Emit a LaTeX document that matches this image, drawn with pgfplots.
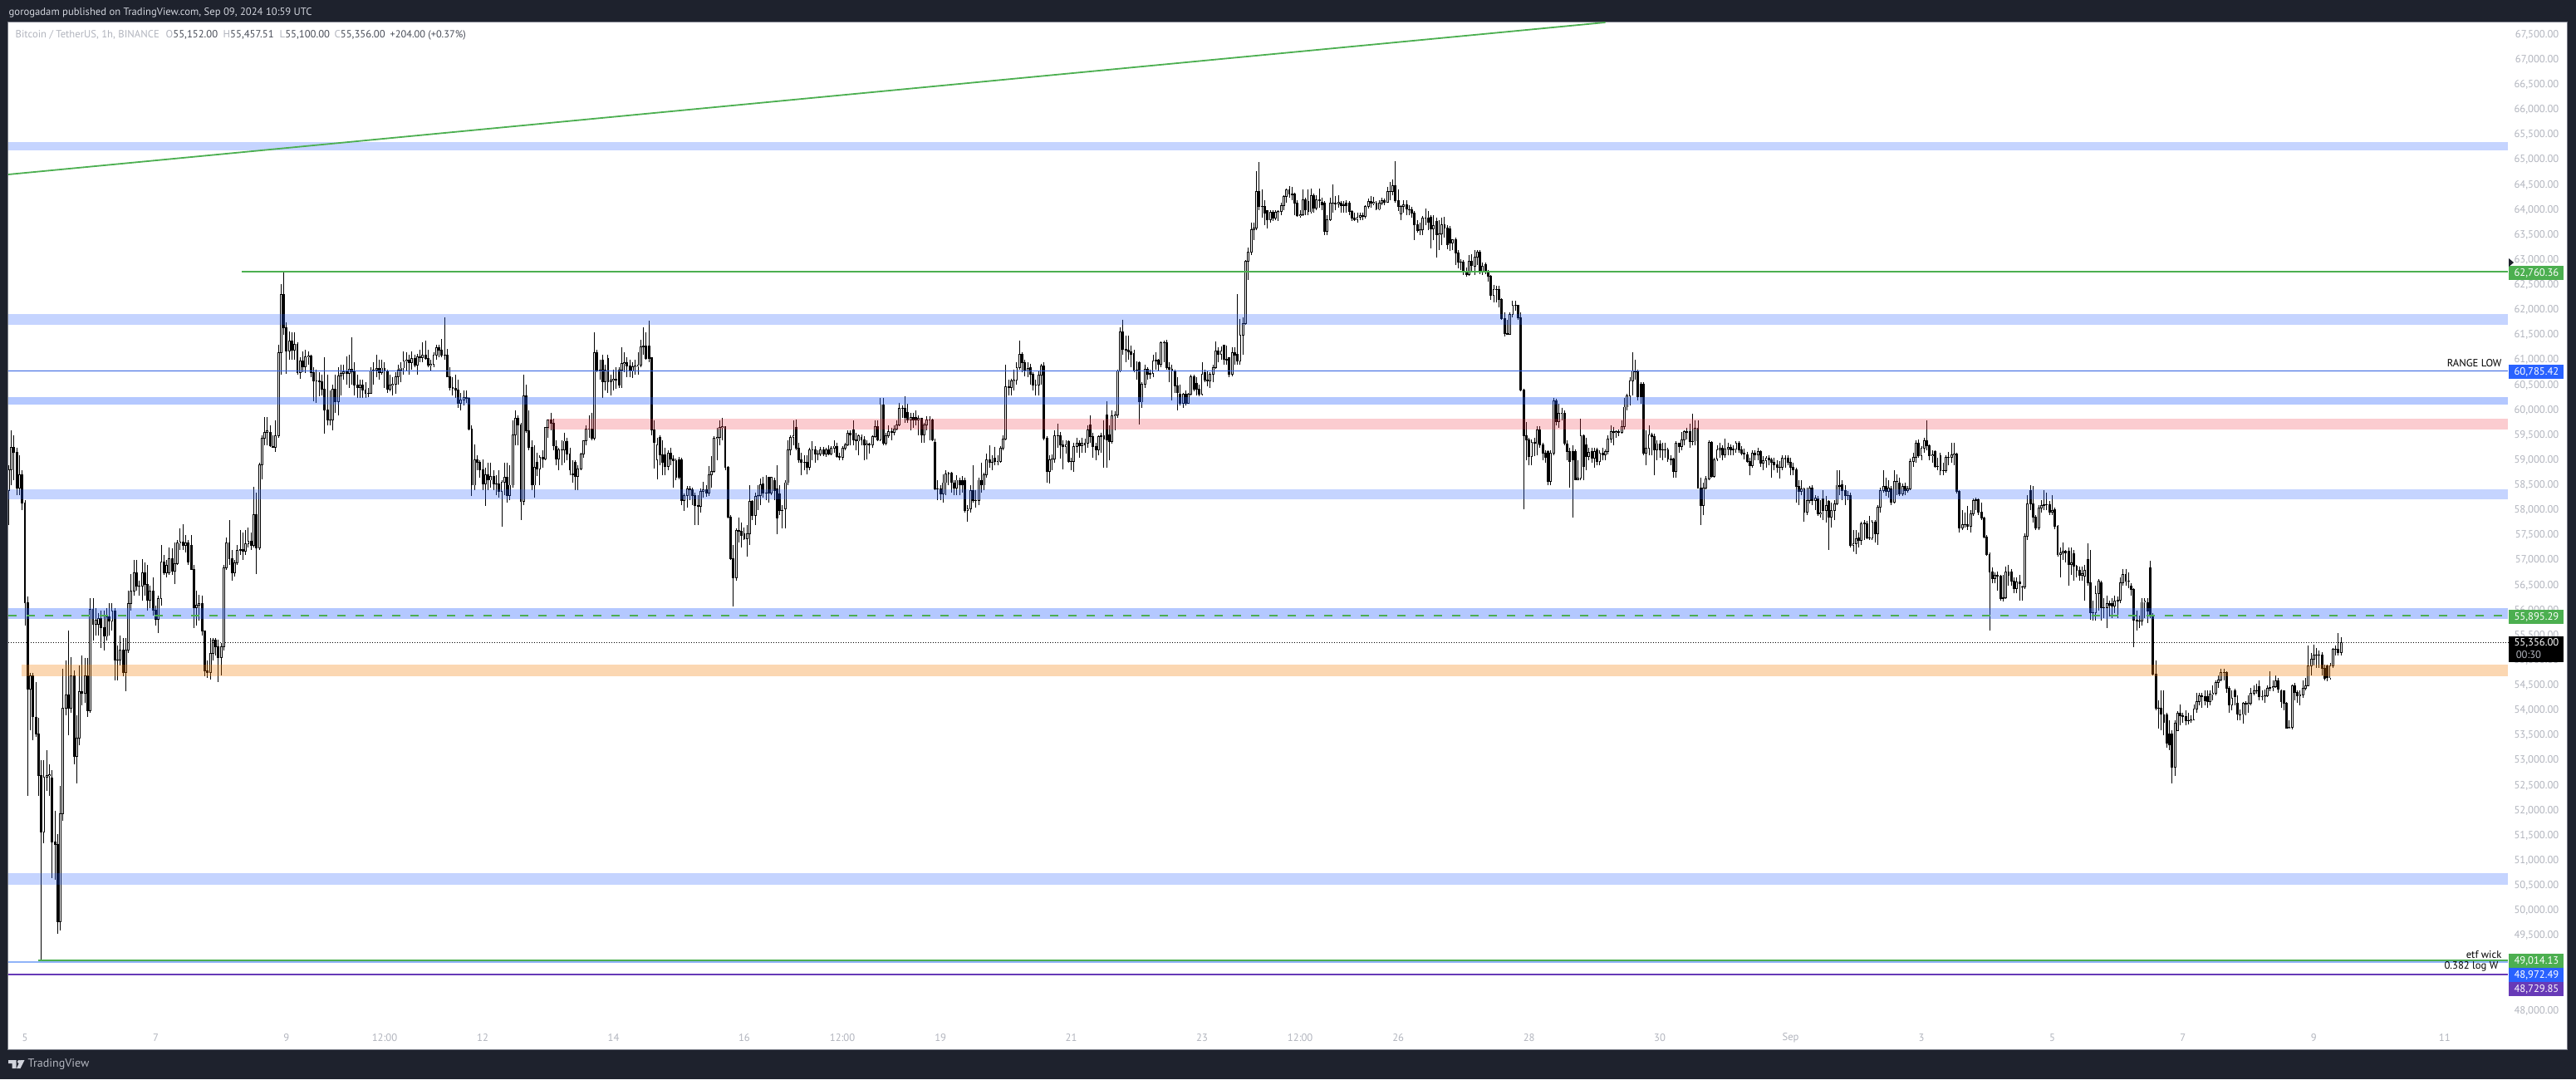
\documentclass[border=0pt]{standalone}
\usepackage{fontspec}
\setmainfont{PT Sans}
\usepackage{pgfplots}
\pgfplotsset{compat=1.18}

\definecolor{tvdark}{HTML}{1E222D}
\definecolor{tvedge}{HTML}{787B86}
\definecolor{tvtick}{HTML}{B2B5BE}
\definecolor{tvtext}{HTML}{D1D4DC}
\definecolor{tvink}{HTML}{4A4E59}
\definecolor{tvgreen}{HTML}{4CAF50}
\definecolor{tvblue}{HTML}{2962FF}
\definecolor{tvline}{HTML}{3060E0}
\definecolor{tvsky}{HTML}{90B4F8}
\definecolor{tvpurple}{HTML}{673AB7}
\definecolor{tvred}{HTML}{F23645}
\definecolor{tvorange}{HTML}{F57C00}

% rows: hours since Aug 5 00:00 UTC, open, high, low, close
\def\candlerows{%
-6 58400 58900 57700 58800
-5 58800 59590 58500 59250
-4 59250 59500 58600 59150
-3 59150 59250 58300 58450
-2 58450 59100 58300 58700
-1 58700 58800 58000 58150
0 58150 58200 55700 56150
1 56150 56280 52300 54420
2 54420 54750 53600 54690
3 54690 54750 53400 53870
4 53870 54560 53480 53525
5 53525 53850 52300 52700
6 52700 53000 49020 51570
7 51570 53000 51350 52670
8 52670 53200 52400 52700
9 52700 52920 52300 52720
10 52650 52800 50650 51375
11 51375 52000 50620 51330
12 51330 51530 49540 49780
13 49780 52500 49600 51940
14 51940 54830 51800 54040
15 54040 55000 53900 54310
16 54310 55600 53500 54040
17 54040 55070 53950 54690
18 54690 54800 52930 53080
19 53080 53900 52550 53450
20 53450 54900 53300 54380
21 54380 55100 54100 54350
22 54350 55050 54150 54690
23 54690 55050 53870 54000
24 54000 56250 53950 56020
25 56020 56250 55400 55720
26 55720 56050 55500 55800
27 55720 55950 55500 55830
28 55830 56000 55250 55650
29 55650 56000 55200 55480
30 55480 56050 55400 55870
31 55870 56150 55500 55790
32 55790 56150 55600 55990
33 55990 56050 54600 55000
34 55000 55300 54600 55000
35 55000 55500 54900 55200
36 55200 55450 54680 54760
37 54760 55450 54380 55200
38 55200 56400 55150 56130
39 56130 56720 56000 56390
40 56390 57000 56300 56750
41 56750 57000 56400 56480
42 56480 56600 56300 56480
43 56480 57030 56200 56750
44 56750 56950 56300 56510
45 56510 56900 56000 56200
46 56200 56500 56050 56380
47 56380 56650 55900 56000
48 56000 56100 55700 55820
49 55820 56300 55550 56240
50 56240 57300 56100 56960
51 56960 57100 56700 56750
52 56750 57000 56650 56900
53 56750 57250 56700 57030
54 57030 57240 56700 56790
55 56790 57350 56520 56930
56 56930 57400 56900 57340
57 57340 57640 57200 57370
58 57370 57720 57200 57300
59 57300 57500 57150 57340
60 57340 57400 56900 56960
61 57300 57500 56800 56810
62 56810 56900 55650 56060
63 56060 56400 55700 56100
64 56100 56310 55800 56130
65 56130 56300 55500 55590
66 55590 55600 54680 54790
67 54790 55000 54650 54760
68 54760 55450 54620 55140
69 55140 55450 55000 55400
70 55400 55450 55100 55280
71 55280 55420 54560 55060
72 55060 55350 54700 55270
73 55270 56900 55200 56850
74 56850 57450 56800 57340
75 57340 57800 56900 57030
76 57030 57200 56600 56750
77 56750 57000 56680 56950
78 56950 57300 56900 57200
79 57200 57600 57100 57210
80 57210 57550 57000 57180
81 57180 57600 57100 57330
82 57330 57650 57250 57380
83 57380 57550 57200 57300
84 57300 58460 57250 57906
85 57906 58350 56720 57240
86 57240 58950 57200 58900
87 58900 59500 58620 59440
88 59440 59860 59300 59550
89 59550 59860 59300 59580
90 59550 59700 59260 59280
91 59280 59500 59250 59260
92 59260 59800 59170 59480
93 59480 61300 59450 61140
94 61140 62520 60700 62310
95 62310 62750 61500 61650
96 61650 61750 60720 61180
97 61180 61570 61000 61380
98 61380 61560 61000 61200
99 61200 61550 61000 61320
100 61320 61360 60700 60750
101 60750 61060 60620 60980
102 60980 61170 60750 60860
103 60860 61200 60740 61060
104 61060 61170 60900 61080
105 61080 61110 60650 60750
106 60750 60850 60170 60590
107 60590 60800 60150 60580
108 60580 60750 60280 60560
109 60560 60700 60300 60420
110 60420 61050 59530 60000
111 60000 60700 59700 59800
112 59800 60400 59700 59800
113 59800 60500 59600 60410
114 60410 60700 59950 60170
115 60170 60850 59900 60680
116 60680 60900 60300 60740
117 60740 60900 60600 60760
118 60760 61080 60500 60730
119 60730 61100 60450 60820
120 60820 61450 60500 60760
121 60790 60950 60300 60500
122 60500 60700 60240 60450
123 60450 60600 60250 60500
124 60500 60600 60250 60400
125 60400 60550 60250 60330
126 60330 60450 60260 60340
127 60340 60850 60320 60780
128 60780 60950 60500 60800
129 60800 61100 60650 60830
130 60830 61000 60600 60750
131 60750 61000 60700 60840
132 60840 60950 60450 60790
133 60790 60800 60350 60420
134 60420 60700 60380 60500
135 60500 60650 60300 60520
136 60520 60750 60330 60660
137 60660 60900 60500 60800
138 60800 60950 60560 60840
139 60840 61170 60700 60980
140 60980 61150 60780 61000
141 61000 61100 60700 60950
142 60950 61180 60800 61030
143 61030 61100 60850 60900
144 60900 61120 60700 61070
145 61070 61200 60950 61040
146 61040 61350 60950 61100
147 61100 61380 61000 61030
148 61030 61200 60850 60900
149 60900 61000 60780 60920
150 60920 61150 60850 61105
151 61105 61300 61000 61240
152 61240 61300 61050 61200
153 61200 61420 61050 61105
154 61105 61850 61000 61100
155 61100 61220 60650 60670
156 60670 60850 60400 60450
157 60450 60650 60300 60430
158 60430 60700 60250 60400
159 60400 60600 60050 60140
160 60140 60350 60000 60200
161 60200 60400 60100 60245
162 60245 60400 60150 60230
163 60230 60260 59600 59620
164 59620 59700 58290 58500
165 58500 59320 58400 59000
166 59000 59100 58800 58950
167 58950 59000 58650 58800
168 58800 59010 58400 58520
169 58520 58850 58090 58700
170 58700 58950 58400 58600
171 58600 58950 58450 58680
172 58680 58800 58400 58520
173 58520 58700 58300 58520
174 58520 58800 58250 58380
175 58380 58600 57670 58560
176 58560 58950 58300 58660
177 58660 58950 58150 58290
178 58290 58900 58200 58500
179 58500 59800 58450 59500
180 59500 60000 59300 59840
181 59840 59900 59300 59700
182 59700 59750 57800 58180
183 58180 60700 58100 60280
184 60280 60500 59550 59590
185 59590 60000 59200 59260
186 59260 59400 58400 58500
187 58500 59300 58250 58850
188 58950 59150 58680 58820
189 58820 59100 58500 59050
190 59050 59200 58850 59030
191 59030 59650 59000 59650
192 59650 59800 59450 59800
193 59800 59950 59600 59740
194 59740 59830 59200 59280
195 59280 59400 58900 59030
196 59030 59250 58800 59210
197 59210 59400 58900 59200
198 59200 59550 58950 59380
199 59380 59450 59000 59120
200 59120 59250 58700 58800
201 58730 59000 58550 58700
202 58950 59000 58400 58670
203 58670 58900 58400 58830
204 58830 59150 58800 59120
205 59120 59400 59050 59390
206 59390 59700 59300 59620
207 59620 59900 59450 59620
208 59620 59950 59400 59440
209 59440 61550 59400 61140
210 61140 61200 60750 60790
211 60800 61000 60600 60780
212 60990 61100 60245 60560
213 60560 60900 60400 60800
214 61030 61100 60350 60560
215 60560 60700 60300 60600
216 60600 60800 60400 60620
217 60620 60850 60430 60600
218 60800 60850 60450 60500
219 60800 61260 60450 60930
220 60930 61150 60750 60950
221 60950 61050 60650 60880
222 60880 61000 60650 60790
223 60790 60950 60640 60860
224 60860 61000 60700 60880
225 60880 61150 60700 60900
226 60900 61400 60850 61270
227 61270 61650 61100 61280
228 61280 61550 61000 61030
229 61280 61790 60950 61030
230 61040 61060 59500 59600
231 59600 59800 58840 59350
232 59000 59450 58620 59300
233 59450 59500 58900 59100
234 59100 59400 58700 58950
235 59106 59250 58700 58880
236 58880 59200 58800 59140
237 59140 59250 58900 59020
238 59020 59100 58450 58990
239 58990 59030 58600 58650
240 59000 59060 58620 58650
241 59010 59050 58100 58190
242 58190 58340 57990 58300
243 58300 58480 58050 58430
244 58430 58480 58200 58410
245 58410 58450 58100 58290
246 58290 58350 57700 58100
247 58100 58300 57700 58080
248 58080 58440 57950 58380
249 58380 58570 58250 58410
250 58410 58500 58260 58340
251 58340 58890 58290 58710
252 58710 59080 58450 58780
253 58780 59480 58750 59430
254 59430 59650 59000 59460
255 59460 59790 59300 59650
256 59650 59840 59400 59670
257 59670 59680 58800 58860
258 58860 58880 57830 57860
259 57860 57900 57000 57030
260 57030 57300 56070 56650
261 56650 57640 56600 57600
262 57600 57860 57350 57580
263 57580 57760 57260 57500
264 57530 57650 57400 57430
265 57430 57700 57080 57530
266 57530 58500 57300 58180
267 58180 58200 57800 57890
268 57890 58350 57700 58280
269 58280 58500 58000 58300
270 58300 58640 58100 58510
271 58520 58670 58250 58350
272 58350 58700 58200 58340
273 58650 58650 58150 58350
274 58350 58660 58300 58650
275 58600 58650 58200 58400
276 58420 58900 57520 57840
277 58320 58500 57900 57990
278 57990 58100 57640 58000
279 58020 58600 57640 58550
280 58550 59400 58500 59200
281 59200 59500 59100 59450
282 59450 59790 59300 59480
283 59660 59810 59200 59240
284 59240 59350 58950 59010
285 59010 59150 58700 58950
286 58950 59100 58800 58950
287 58950 59100 58710 58860
288 58860 59250 58800 59200
289 59200 59380 59000 59210
290 59200 59280 58950 59130
291 59130 59200 59000 59130
292 59130 59270 59080 59210
293 59210 59260 59080 59130
294 59130 59250 59070 59210
295 59210 59300 59100 59130
296 59130 59280 59100 59240
297 59240 59400 59150 59280
298 59280 59350 59040 59080
299 59080 59150 59000 59060
300 59060 59280 59000 59240
301 59240 59350 59200 59310
302 59310 59600 59280 59530
303 59530 59600 59300 59500
304 59600 59790 59300 59400
305 59400 59540 59200 59380
306 59380 59510 59100 59480
307 59450 59510 59300 59400
308 59400 59480 59000 59300
309 59300 59400 59020 59320
310 59320 59350 59130 59300
311 59300 59500 59250 59470
312 59470 59800 59450 59670
313 59670 59800 59380 59400
314 59400 60250 59380 60110
315 60110 60250 59300 59340
316 59340 59550 59300 59480
317 59480 59700 59450 59570
318 59570 59650 59400 59560
319 59560 59700 59500 59620
320 59620 59800 59600 59700
321 59700 60150 59680 60030
322 60030 60100 59850 60040
323 60030 60270 59750 59860
324 59960 60130 59750 59800
325 59800 59950 59600 59860
326 59860 59950 59650 59800
327 59860 59990 59700 59800
328 59800 59900 59500 59830
329 59830 59850 59350 59500
330 59500 59750 59350 59700
331 59700 59870 59600 59810
332 59810 59870 59400 59800
333 59810 59830 59380 59400
334 59350 59430 58400 58420
335 58420 58600 58200 58430
336 58420 58500 58200 58320
337 58320 58720 58150 58550
338 58550 58800 58300 58730
339 58730 58760 58500 58740
340 58740 58760 58350 58550
341 58550 58600 58300 58450
342 58450 58700 58300 58600
343 58600 58650 58300 58500
344 58600 58680 58350 58500
345 58600 58650 57950 58000
346 58000 58100 57770 58020
347 58020 58500 57950 58400
348 58400 58900 58150 58190
349 58190 58400 58060 58200
350 58200 58650 58100 58600
351 58600 58950 58350 58500
352 58500 58750 58400 58700
353 58700 59130 58650 59010
354 59010 59300 58850 58950
355 58950 59100 58800 58960
356 59040 59270 58900 58980
357 58980 59100 58900 58970
358 58980 59280 58950 59240
359 59240 59500 59200 59420
360 59420 60900 59400 60470
361 60470 60600 60300 60450
362 60450 60630 60300 60580
363 60580 60800 60400 60600
364 60600 60950 60500 60850
365 60850 61390 60800 61110
366 61110 61150 60750 60950
367 60950 61000 60680 60780
368 60780 60950 60650 60830
369 60850 60930 60500 60710
370 60710 60750 60400 60500
371 60500 60600 60300 60500
372 60500 60780 60300 60700
373 60700 60920 60500 60880
374 60880 60950 59400 59430
375 59430 59480 58550 58780
376 58780 59100 58540 59010
377 59010 59110 58800 59030
378 59030 59600 58950 59480
379 59480 59730 59250 59480
380 59480 59570 59030 59300
381 59300 59400 58810 59270
382 59270 59400 59130 59300
383 59370 59400 58950 58980
384 58980 59050 58800 58980
385 58980 59350 58760 59270
386 59270 59450 59150 59340
387 59340 59400 59050 59290
388 59290 59450 59150 59340
389 59340 59430 59150 59310
390 59340 59700 59250 59610
391 59700 59900 59350 59470
392 59470 59550 59050 59270
393 59270 59350 59000 59200
394 59200 59500 59100 59470
395 59470 59550 59150 59480
396 59480 59800 58850 59420
397 59900 60180 58850 59400
398 59500 59700 59000 59370
399 59370 60000 59330 59880
400 59880 59980 59600 59900
401 59900 60800 59850 60780
402 60780 61650 60750 61560
403 61560 61810 61100 61210
404 61210 61480 60950 61200
405 61200 61480 61000 61170
406 61170 61290 60850 61110
407 61130 61200 60750 60800
408 60800 60980 60600 60800
409 60950 60970 59710 60160
410 60160 60550 60050 60520
411 60520 60900 60450 60820
412 60820 60860 60600 60720
413 60720 60800 60620 60730
414 60730 61100 60650 60980
415 60980 61150 60800 60990
416 60990 61020 60780 60920
417 60920 61370 60850 61340
418 61340 61380 60950 61340
419 61340 61400 60800 60850
420 60850 60950 60550 60820
421 60820 60900 60200 60780
422 60780 60800 60350 60480
423 60480 60650 60000 60350
424 60320 60500 60100 60140
425 60140 60350 60050 60320
426 60320 60400 60100 60140
427 60140 60350 60120 60320
428 60320 60700 60300 60670
429 60670 60700 60380 60410
430 60540 60650 60300 60410
431 60410 60500 60270 60320
432 60320 60950 60300 60720
433 60750 60800 60550 60600
434 60600 60780 60480 60590
435 60590 60750 60450 60720
436 60720 60900 60550 60850
437 60850 61370 60820 61180
438 61180 61250 60950 61110
439 61110 61270 61000 61180
440 61290 61300 60900 61010
441 61010 61290 60900 61000
442 61040 61050 60650 60720
443 60720 61250 60680 61140
444 61140 61260 60900 61100
445 61110 62310 60900 60980
446 60980 61820 60900 61500
447 61500 61850 61100 61730
448 61730 63000 61700 62980
449 62980 63250 62600 63150
450 63150 63750 63100 63610
451 63610 63750 63400 63630
452 63630 64780 63600 64360
453 64360 64950 64000 64060
454 64060 64400 63850 64060
455 64060 64200 63700 63930
456 63980 64000 63620 63810
457 63810 64000 63750 63950
458 63950 64000 63780 63830
459 63830 64000 63800 63950
460 63950 64000 63780 63970
461 63970 64150 63900 64080
462 64080 64300 64000 64260
463 64260 64420 64150 64400
464 64400 64480 64250 64310
465 64310 64450 64200 64300
466 64310 64350 63900 64130
467 64130 64200 63860 63880
468 63880 64000 63850 63900
469 63900 64400 63870 64200
470 64200 64240 63900 64000
471 64160 64400 63900 63960
472 63960 64420 63930 64290
473 64290 64320 63950 64030
474 64030 64300 64000 64200
475 64200 64420 64050 64190
476 64150 64250 64000 64100
477 64130 64180 63500 63570
478 63570 63900 63500 63800
479 63800 64250 63780 64130
480 64130 64510 63950 64130
481 64130 64280 64000 64120
482 64120 64300 64050 64150
483 64130 64180 63950 64090
484 64090 64170 63950 64100
485 64130 64200 63950 64090
486 64130 64170 63900 63970
487 63970 64000 63780 63840
488 63840 63950 63780 63800
489 63800 63950 63750 63860
490 63860 63950 63800 63890
491 63890 63950 63800 63870
492 63870 64100 63820 64060
493 64060 64220 64030 64170
494 64170 64280 64050 64130
495 64130 64260 64100 64150
496 64130 64170 63990 64010
497 64010 64200 63990 64130
498 64130 64240 64100 64190
499 64190 64230 64100 64150
500 64150 64460 64150 64360
501 64360 64550 64200 64360
502 64360 64600 64300 64480
503 64480 64980 64150 64190
504 64190 64400 63980 64060
505 63920 64100 63800 64060
506 64060 64200 63950 64100
507 64100 64200 63900 64010
508 64010 64100 63900 64000
509 64000 64060 63850 63930
510 63930 63980 63400 63700
511 63700 63800 63550 63590
512 63590 63750 63500 63610
513 63610 63880 63500 63830
514 63830 64020 63700 63840
515 63830 63980 63600 63750
516 63860 63900 63230 63620
517 63620 63900 63400 63690
518 63770 63850 63050 63500
519 63500 63800 63200 63520
520 63520 63850 63300 63700
521 63700 63860 63450 63640
522 63640 63700 63220 63310
523 63620 63670 63180 63330
524 63330 63420 63200 63400
525 63410 63450 62900 63140
526 63140 63200 62830 62950
527 62950 63020 62800 62960
528 62960 63000 62700 62780
529 62780 62850 62670 62700
530 62700 63100 62680 62980
531 62980 63120 62750 62890
532 62880 63200 62700 63050
533 63050 63200 62900 63150
534 63150 63200 62720 62750
535 62750 62950 62700 62880
536 62900 62950 62720 62780
537 62780 62800 62560 62670
538 62670 62700 62200 62290
539 62290 62500 62150 62410
540 62410 62480 62150 62400
541 62410 62480 62050 62210
542 62210 62230 61800 61830
543 61830 61960 61470 61530
544 61530 61800 61500 61520
545 61520 61950 61510 61910
546 61910 62180 61850 62090
547 62090 62180 61980 62090
548 62090 62100 61800 61850
549 61850 61950 60380 60400
550 60400 60430 58020 59480
551 59480 59760 59000 59400
552 59400 59450 58900 59080
553 59080 59420 58900 59360
554 59360 59450 59080 59330
555 59330 59680 59100 59610
556 59610 59680 59250 59300
557 59300 59350 59000 59140
558 59140 59200 58950 59060
559 59170 59200 58500 58580
560 58580 59200 58500 59140
561 59140 60250 59100 60190
562 60190 60230 59700 59770
563 59770 60130 59650 59930
564 59930 60050 59800 59930
565 59930 59990 59300 59330
566 59330 59400 59000 59180
567 59180 59250 58450 58980
568 59170 59290 57860 59000
569 59170 59220 58600 58610
570 58610 59000 58600 58640
571 58640 59830 58600 59480
572 59480 59520 58600 58880
573 59300 59450 58800 59070
574 59070 59250 59000 59150
575 59170 59250 58950 59040
576 59040 59250 58850 59180
577 59200 59250 58900 58980
578 58980 59200 58900 59140
579 59140 59250 59000 59100
580 59100 59220 59000 59170
581 59170 59500 59120 59420
582 59420 59700 59350 59570
583 59570 59670 59300 59550
584 59550 59600 59450 59570
585 59570 59620 59480 59560
586 59560 59800 59530 59670
587 59670 60250 59620 60060
588 60060 60320 60000 60290
589 60290 60650 60100 60580
590 60580 61150 60300 60790
591 60790 61000 60600 60770
592 60770 60800 60200 60270
593 60520 60550 60130 60270
594 60520 60550 59100 59140
595 59140 59600 58900 59240
596 59240 59700 59100 59500
597 59500 59550 59100 59470
598 59470 59530 58700 59200
599 59200 59400 59000 59330
600 59330 59400 59050 59200
601 59200 59350 59000 59210
602 59210 59350 59050 59210
603 59200 59250 58970 59020
604 59020 59100 58900 59000
605 59020 59050 58650 58770
606 58770 59380 58650 59340
607 59340 59350 59150 59270
608 59270 59560 59200 59400
609 59400 59600 59300 59570
610 59570 59650 59420 59560
611 59570 59720 59250 59370
612 59370 59920 59300 59380
613 59380 59800 59300 59630
614 59630 59800 58430 58450
615 58450 58650 57700 58090
616 58090 58550 57900 58450
617 58450 58680 58420 58620
618 58620 59400 58600 59360
619 59360 59380 58650 58680
620 58680 59050 58650 59000
621 59020 59300 58980 59200
622 59200 59350 59050 59240
623 59240 59300 59000 59100
624 59100 59430 59050 59230
625 59230 59350 59100 59260
626 59260 59320 59100 59210
627 59210 59300 59100 59220
628 59220 59380 59150 59340
629 59340 59380 59150 59210
630 59210 59280 59100 59140
631 59140 59230 59020 59130
632 59110 59170 58950 58980
633 58980 59050 58700 58890
634 58890 59200 58850 59140
635 59140 59200 59000 59100
636 59100 59250 59000 59170
637 59170 59200 58870 58940
638 58940 59080 58800 58990
639 58990 59080 58850 59040
640 59040 59100 58900 59000
641 59000 59050 58650 58950
642 58950 59050 58800 58900
643 58900 59000 58750 58850
644 58850 58980 58640 58850
645 58850 59090 58800 59040
646 59040 59090 58850 59030
647 59040 59100 58900 58950
648 58950 59050 58700 58850
649 58850 58950 58700 58810
650 58810 58850 58150 58470
651 58470 58600 58100 58380
652 58380 58600 58300 58420
653 58420 58450 57770 57960
654 57960 58450 57900 58190
655 58190 58490 58130 58450
656 58450 58500 58100 58200
657 58200 58300 58000 58240
658 58230 58280 57880 57920
659 57920 58200 57850 57950
660 58230 58400 57800 58000
661 58000 58280 57750 58090
662 58170 58200 57200 57860
663 57860 58150 57650 58000
664 58000 58200 57800 58120
665 58120 58800 58100 58500
666 58500 58800 58300 58480
667 58510 58600 58200 58400
668 58400 58500 58100 58300
669 58300 58380 58200 58300
670 58300 58350 57250 57300
671 57300 57600 57170 57330
672 57330 57600 57130 57430
673 57450 57550 57250 57400
674 57400 57770 57300 57730
675 57730 57800 57400 57740
676 57730 57780 57420 57450
677 57450 57880 57400 57450
678 57450 57800 57400 57760
679 57760 57800 57350 57530
680 57530 58100 57300 58060
681 58060 58450 57950 58390
682 58390 58800 58350 58480
683 58480 58650 58280 58380
684 58380 58600 58250 58450
685 58420 58480 58100 58160
686 58160 58800 58130 58580
687 58580 58710 58300 58570
688 58550 58650 58280 58320
689 58320 58540 58280 58470
690 58470 58550 58300 58400
691 58400 58480 58350 58430
692 58420 59030 58400 58980
693 58980 59150 58870 59050
694 59050 59400 58950 59340
695 59340 59410 59050 59090
696 59090 59280 59000 59240
697 59240 59450 59150 59390
698 59390 59795 59200 59290
699 59290 59310 59000 59090
700 59090 59200 58950 59110
701 59170 59200 58850 58870
702 58870 59050 58800 58880
703 59090 59150 58700 58790
704 58790 58950 58700 58790
705 58790 59100 58750 59060
706 59060 59160 58900 59060
707 59060 59340 58950 59100
708 59100 59340 58900 59120
709 59120 59150 58330 58370
710 58370 58400 57560 57650
711 57650 58000 57600 57710
712 57710 57950 57650 57710
713 57710 58080 57600 57680
714 57680 58000 57560 57930
715 57930 58230 57880 58200
716 58200 58250 58000 58210
717 58210 58240 57900 57960
718 57960 58150 57800 57850
719 57850 57870 57430 57460
720 57460 57500 57090 57110
721 57110 57150 55600 56770
722 56770 56850 56550 56630
723 56630 56750 56550 56700
724 56700 56780 56400 56680
725 56680 56700 56200 56240
726 56240 56700 56180 56250
727 56250 56880 56220 56760
728 56760 56900 56500 56700
729 56770 56830 56500 56580
730 56580 56650 56350 56440
731 56440 56650 56350 56570
732 56570 56700 56200 56530
733 56460 56500 56190 56460
734 56460 57530 56430 57480
735 57480 58300 57400 58125
736 58400 58500 58000 58125
737 58125 58480 57750 57860
738 57860 57900 57600 57650
739 57650 58100 57600 58040
740 58040 58200 57950 58100
741 58100 58400 58000 58110
742 58110 58350 58000 58115
743 58115 58180 57900 57960
744 57960 58300 57900 57990
745 58010 58060 57620 57680
746 57680 57700 57080 57110
747 57110 57250 56650 57150
748 57150 57350 57000 57180
749 57180 57200 56950 57150
750 57180 57250 56500 56910
751 56910 57250 56700 56950
752 57130 57200 56600 56880
753 56880 56900 56650 56800
754 56800 56880 56600 56700
755 56700 56870 56600 56730
756 56690 56900 56200 56800
757 57020 57340 56500 56550
758 56550 57200 55820 55960
759 55960 56200 55800 55960
760 55960 56500 55800 56330
761 56330 56620 56000 56590
762 56550 56600 55800 56050
763 56050 56250 55850 56050
764 56050 56300 55650 56130
765 56130 56200 55880 56100
766 56130 56250 55850 56080
767 56080 56300 55950 56190
768 56190 56280 55850 56200
769 56200 56650 56150 56550
770 56550 56830 56500 56710
771 56710 56830 56500 56590
772 56590 56750 56450 56590
773 56480 56550 56300 56420
774 56420 56450 55270 55800
775 55800 56000 55600 55780
776 55780 55900 55650 55780
777 55780 56250 55700 56160
778 56160 56250 55850 56180
779 56160 56250 55750 55990
780 56850 56990 55850 55890
781 55890 55950 54700 54720
782 54720 55000 54000 54040
783 54040 54200 53630 54050
784 54050 54400 53600 53920
785 53920 54400 53500 53770
786 53920 53950 53250 53340
787 53530 53800 53200 53320
788 53530 53600 52550 52870
789 52870 53800 52700 53750
790 53600 53980 53600 53950
791 53950 54120 53700 53900
792 53900 53960 53750 53880
793 53880 54000 53700 53790
794 53790 53950 53720 53800
795 53800 53900 53750 53820
796 53820 54120 53800 54030
797 54030 54350 53950 54170
798 54170 54350 54100 54300
799 54300 54350 54050 54280
800 54280 54400 54100 54200
801 54280 54400 54050 54170
802 54170 54400 54100 54330
803 54330 54500 54200 54350
804 54350 54600 54300 54560
805 54560 54700 54450 54610
806 54610 54830 54580 54760
807 54760 54830 54600 54760
808 54760 54780 54350 54450
809 54450 54480 53950 54110
810 54110 54400 54000 54250
811 54400 54430 54100 54270
812 54140 54300 53800 53920
813 53920 54020 53800 53920
814 53920 54170 53740 54140
815 54140 54180 53900 54130
816 54130 54300 53950 54150
817 54150 54450 54100 54340
818 54340 54500 54300 54390
819 54390 54530 54330 54400
820 54470 54600 54200 54280
821 54280 54400 54200 54280
822 54280 54420 54150 54300
823 54300 54500 54270 54450
824 54450 54780 54380 54460
825 54460 54600 54380 54480
826 54480 54700 54450 54600
827 54600 54650 54350 54420
828 54390 54420 54050 54170
829 54390 54400 54000 54140
830 54140 54170 53630 53650
831 53650 53800 53630 53670
832 53670 54520 53620 54500
833 54500 54550 54200 54360
834 54360 54400 54150 54300
835 54300 54400 54100 54310
836 54310 54600 54250 54450
837 54450 54650 54400 54500
838 54500 55300 54480 54890
839 54890 55150 54700 55030
840 55030 55320 54900 55110
841 55110 55250 54850 55100
842 55100 55200 54850 55110
843 55110 55160 54700 54840
844 54840 54910 54600 54640
845 54890 54910 54590 54650
846 54650 54950 54620 54890
847 54890 55250 54850 55220
848 55220 55300 55100 55220
849 55220 55540 55100 55150
850 55152 55457 55100 55356
END 0 0 0 0 }

% one long path per layer: wicks, bodies, white cores of the rising candles
\newtoks\wickpath \newtoks\bodypath \newtoks\corepath
\newcount\bodytop \newcount\bodybot
\def\endmark{END}
\def\readrow#1 #2 #3 #4 #5 {%
  \def\rowkey{#1}%
  \ifx\rowkey\endmark\else
    \ifnum#5<#2 \bodytop=#2 \bodybot=#5 \else \bodytop=#5 \bodybot=#2 \fi
    \wickpath\expandafter{\the\wickpath (#1,#3)(#1,#4)(#1,nan)}%
    \edef\rowseg{(#1,\the\numexpr\bodytop+8\relax)(#1,\the\numexpr\bodybot-8\relax)(#1,nan)}%
    \bodypath\expandafter\expandafter\expandafter{\expandafter\the\expandafter\bodypath\rowseg}%
    \ifnum#5<#2 \else\ifnum\numexpr\bodytop-\bodybot\relax>16
      \edef\rowseg{(#1,\the\numexpr\bodytop-8\relax)(#1,\the\numexpr\bodybot+8\relax)(#1,nan)}%
      \corepath\expandafter\expandafter\expandafter{\expandafter\the\expandafter\corepath\rowseg}%
    \fi\fi
    \expandafter\readrow
  \fi
}
\expandafter\readrow\candlerows

\def\segplotB#1#2{\addplot[#2] coordinates {#1};}
\newcommand{\segplot}[2]{\expandafter\segplotB\expandafter{\the#2}{#1}}

\pgfplotsset{band/.style 2 args={draw=none, fill=#1, fill opacity=#2, forget plot}}
% zones: colour, opacity, left end, top edge, bottom edge
\newcommand{\band}[5]{\addplot[band={#1}{#2}] coordinates {(#3,#4) (911.3,#4) (911.3,#5) (#3,#5)} --cycle;}
\newcommand{\tvsize}{\fontsize{3.6pt}{4.3pt}\selectfont}

\begin{document}
\begin{tikzpicture}
\fill[tvdark] (-1mm,-3.6mm) rectangle (309.1mm,126.3mm);
\begin{axis}[
  scale only axis, width=308.07mm, height=123.6mm,
  xmin=-6.1, xmax=933.1, ymin=47232, ymax=67744,
  axis background/.style={fill=white},
  axis line style={draw=tvedge, line width=0.1mm},
  tick style={draw=none},
  unbounded coords=jump,
  ytick={48000,48500,...,67500},
  yticklabel pos=right,
  scaled y ticks=false,
  xtick={0,48,96,132,168,216,264,300,336,384,432,468,504,552,600,648,696,744,792,840,888},
  xticklabels={5,7,9,12:00,12,14,16,12:00,19,21,23,12:00,26,28,30,Sep,3,5,7,9,11},
  y tick label style={font=\tvsize, text=tvtick, anchor=east, inner sep=0pt, xshift=-0.97mm,
    /pgf/number format/fixed, /pgf/number format/fixed zerofill, /pgf/number format/precision=2,
    /pgf/number format/1000 sep={,}, /pgf/number format/assume math mode=true},
  x tick label style={font=\tvsize, text=tvtick, anchor=center, inner sep=0pt, yshift=1.4mm},
  clip=true,
]
\segplot{black, line width=0.1mm, forget plot}{\wickpath}
\segplot{black, line width=0.29mm, forget plot}{\bodypath}
\segplot{white, line width=0.1mm, forget plot}{\corepath}

% zones
\band{tvblue}{0.27}{-6.1}{65354}{65188}
\band{tvblue}{0.27}{-6.1}{61919}{61708}
\band{tvblue}{0.35}{-6.1}{60260}{60110}
\band{tvred}{0.25}{192}{59830}{59618}
\band{tvblue}{0.27}{-6.1}{58414}{58215}
\band{tvblue}{0.35}{-6.1}{56045}{55830}
\band{tvorange}{0.3}{-1.2}{54916}{54689}
\band{tvblue}{0.27}{-6.1}{50750}{50518}

% levels
\addplot[tvgreen, line width=0.18mm, forget plot] coordinates {(-6.1,64707) (580,67744)};
\addplot[tvgreen, line width=0.18mm, forget plot] coordinates {(79.5,62760.36) (911.3,62760.36)};
\addplot[tvline, line width=0.15mm, forget plot] coordinates {(-6.1,60785.42) (911.3,60785.42)};
\addplot[tvgreen, line width=0.18mm, dash pattern=on 1mm off 1.2mm, forget plot] coordinates {(-6.1,55895.29) (911.3,55895.29)};
\addplot[black, line width=0.08mm, dash pattern=on 0.1mm off 0.2mm, forget plot] coordinates {(-6.1,55356) (911.3,55356)};
\addplot[tvsky, line width=0.18mm, forget plot] coordinates {(-6.1,48972.49) (911.3,48972.49)};
\addplot[tvgreen, line width=0.18mm, forget plot] coordinates {(5,49014.13) (911.3,49014.13)};
\addplot[tvpurple, line width=0.2mm, forget plot] coordinates {(-6.1,48729.85) (911.3,48729.85)};
\end{axis}

% screen furniture, in pixels of the reference
\begin{scope}[x=0.1mm, y=-0.1mm, shift={(-1mm,126.3mm)}, every node/.style={font=\tvsize, anchor=west, inner sep=0}]
\node[text=tvtext] at (10,15) {gorogadam published on TradingView.com, Sep 09, 2024 10:59 UTC};
\node[text=tvtick, font=\fontsize{3.6pt}{5pt}\selectfont] at (18,42) {Bitcoin / TetherUS, 1h, BINANCE};
\node[text=tvink] at (199,42) {\textcolor{tvtick}{O}55,152.00};
\node[text=tvink] at (268,42) {\textcolor{tvtick}{H}55,457.51};
\node[text=tvink] at (336,42) {\textcolor{tvtick}{L}55,100.00};
\node[text=tvink] at (402,42) {\textcolor{tvtick}{C}55,356.00};
\node[text=tvink, font=\fontsize{3.5pt}{5pt}\selectfont] at (469,42) {+204.00 (+0.37\%)};
\node[anchor=east, text=black] at (3012,437) {RANGE LOW};
\node[anchor=east, text=black] at (3012,1149) {etf wick};
\node[anchor=east, text=black] at (3008,1163) {0.382 log W};
\foreach \ya/\yb/\col/\lab in {320/337/tvgreen/{62,760.36}, 439/456/tvblue/{60,785.42}, 734/751/tvgreen/{55,895.29}, 1148/1165/tvgreen/{49,014.13}, 1165/1182/tvblue/{48,972.49}, 1182/1199/tvpurple/{48,729.85}}{
  \fill[\col] (3020,\ya) rectangle (3086,\yb);
  \node[anchor=east, text=white] at (3081,{(\ya+\yb)/2}) {\lab};
}
\fill[black] (3020,766) rectangle (3086,797);
\node[anchor=east, text=white] at (3081,774) {55,356.00};
\node[text=tvtick] at (3028,788) {00:30};
\fill[tvdark] (3020,311) -- (3026,316) -- (3020,321) -- cycle;
\fill[tvtext] (10,1276) -- (19.5,1276) -- (19.5,1286) -- (14.5,1286) -- (14.5,1280) -- (10,1280) -- cycle;
\fill[tvtext] (23,1278) circle (2);
\fill[tvtext] (24.5,1286) -- (20,1286) -- (24.5,1276) -- (29.5,1276) -- cycle;
\node[text=tvtick, font=\fontsize{4pt}{5pt}\selectfont] at (33,1281) {TradingView};
\end{scope}
\end{tikzpicture}
\end{document}
